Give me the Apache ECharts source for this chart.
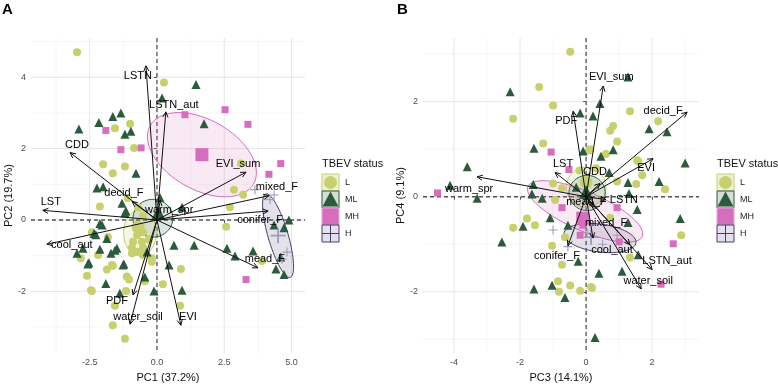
<!DOCTYPE html>
<html>
<head>
<meta charset="utf-8">
<script src="https://cdn.jsdelivr.net/npm/echarts@6/dist/echarts.min.js"></script>
<style>html,body{margin:0;padding:0;background:#fff}#chart{width:778px;height:388px}</style>
</head>
<body>
<div id="chart"></div>
<script>
// ---- data: panel A (PC1 / PC2) ----
const lA = [[-2.97,4.7],[0.26,3.85],[-1.56,2.57],[-1.0,2.7],[-0.85,2.02],[-2.0,1.56],[-1.64,1.31],[-1.19,1.5],[3.12,1.58],[2.86,0.85],[3.2,0.71],[-2.12,0.38],[-1.08,0.61],[2.71,0.36],[2.57,-0.19],[3.9,-1.15],[0.89,-1.37],[0.22,-1.8],[0.86,-2.4],[-0.45,-1.72],[-1.15,-1.99],[-1.56,-2.4],[-1.64,-2.95],[-1.19,-3.33],[-2.42,-1.99],[-2.6,-1.56],[-1.86,-1.39],[-1.64,-1.28],[-1.12,-1.58],[-1.04,-1.67],[-2.83,-1.07],[-2.19,-0.98],[-0.93,-0.93],[-0.52,-0.98],[-0.19,-1.07],[-0.52,0.12],[-0.63,-0.2],[-0.52,-0.34],[-0.74,-0.42],[-0.89,-0.61],[-0.56,-0.61],[-0.93,-0.78],[-0.74,-0.89],[-0.52,-0.78],[-1.82,-0.48],[-1.67,-1.26],[-0.19,-1.17],[-0.3,-0.55],[-0.7,0.35],[-2.42,-0.34],[-2.45,-1.97]]
const mlA = [[1.45,3.8],[0.19,3.42],[1.75,2.7],[-2.9,2.55],[-2.16,2.73],[-1.64,2.9],[-1.34,3.0],[-0.97,2.49],[-1.19,2.4],[-0.78,1.31],[-2.23,0.9],[-2.0,0.93],[-1.15,0.25],[0.93,0.36],[4.35,-0.14],[4.72,-0.22],[4.9,0.0],[4.6,-1.04],[4.42,-1.37],[4.72,-1.53],[3.57,-0.87],[2.9,-1.01],[2.6,-0.79],[1.38,-0.71],[0.63,-0.71],[0.93,-1.97],[0.45,-1.26],[-0.11,-1.99],[-0.45,-1.6],[-1.38,-2.05],[-1.9,-1.78],[-1.23,-1.23],[-2.57,-1.23],[-2.97,-0.93],[-2.75,-0.79],[-2.27,-0.41],[-1.86,-0.52],[-2.12,-0.82],[-1.49,-0.79],[-1.71,-0.93],[-0.37,-0.9],[-1.3,0.47],[-1.19,0.2],[-2.04,-0.14],[0.11,0.63],[-1.56,-0.85],[-1.26,-1.26],[-2.12,-0.1],[-2.34,-0.38],[-2.53,-1.2]]
const mhA = [[1.04,2.95],[2.53,3.09],[3.38,2.68],[-1.9,2.51],[-1.34,1.97],[-0.59,2.02],[4.6,1.58],[4.16,1.28],[3.31,-1.67]]
const hA = [[3.64,0.85],[4.2,0.57],[4.35,0.7],[4.83,-0.9],[4.65,-1.1]]
const meansA = [[-0.7,-0.2],[0.05,0.2],[1.67,1.83],[4.5,-0.44]]
// ellipse: centre x, centre y, semi-axis 1 (dx, dy), semi-axis 2 (dx, dy)
const ellA = [[-0.63,-0.36,0.6,-0.08,0.08,0.64],[-0.15,0.05,0.74,0,0,0.53],[1.67,1.83,1.91,-0.83,-0.67,-0.84],[4.5,-0.44,0.45,-1.17,-0.36,-0.07]]
const varsA = ['LSTN','LSTN_aut','CDD','EVI_sum','mixed_F','conifer_F','mead_F','EVI','water_soil','PDF','cool_aut','LST','decid_F','warm_spr']
const loadA = [[-0.41,4.32],[0.33,3.03],[-3.23,1.89],[3.31,1.34],[4.16,0.68],[4.13,0.25],[3.75,-1.34],[0.89,-2.95],[-1.0,-2.92],[-0.89,-2.1],[-4.09,-0.68],[-4.24,0.27],[-0.93,0.52],[0.12,0.55]]

// ---- data: panel B (PC3 / PC4) ----
const lB = [[-0.48,3.05],[-1.42,2.31],[-1.0,1.92],[-2.21,1.64],[0.82,1.49],[0.73,1.39],[-1.3,1.12],[0.09,0.98],[0.94,1.16],[1.33,1.8],[2.18,1.59],[0.12,1.0],[1.58,0.74],[1.7,0.45],[0.94,0.32],[1.52,0.27],[2.39,0.16],[0.73,-0.44],[2.88,-0.81],[1.33,-1.28],[-0.18,-1.98],[0.18,-1.92],[-0.48,-1.87],[-0.73,-1.43],[-1.0,0.28],[-0.94,-0.07],[-0.73,0.18],[-1.79,-0.46],[-2.21,-0.65],[-1.55,-0.6],[-0.64,-0.85],[-1.03,-1.03],[-0.85,-1.78],[-0.82,-2.0],[0.15,-1.9],[1.55,0.77],[0.3,0.6],[-0.2,0.55],[0.6,0.9]]
const mlB = [[-2.3,2.21],[-0.18,1.76],[0.21,1.7],[0.42,1.96],[-1.58,1.02],[-3.6,0.63],[-4.12,0.24],[1.27,2.52],[1.91,1.43],[2.45,1.37],[0.82,0.99],[0.45,0.85],[-0.09,0.96],[3.0,0.71],[0.7,0.51],[1.27,0.3],[2.21,0.32],[1.3,0.07],[1.55,-0.27],[1.27,-0.54],[2.85,-0.46],[1.58,-1.22],[1.09,-1.57],[0.39,-1.61],[0.27,-2.96],[-0.64,-2.12],[-0.24,-1.36],[-0.55,-0.6],[-3.3,-0.03],[-1.6,0.26],[-1.64,0.06],[-1.33,-0.03],[-1.09,-0.44],[-1.91,-0.62],[-2.55,-0.95],[-1.03,-1.86],[-1.58,-1.94],[-0.3,0.2]]
const mhB = [[-1.06,0.94],[-0.52,0.57],[-4.5,0.08],[0.94,-0.23],[2.64,-0.99],[2.27,-1.84],[1.0,-0.95],[-0.73,-0.23],[-0.18,-0.81],[-0.1,-0.6]]
const hB = [[-1.0,-0.7],[-0.55,-1.05],[0.03,-0.77],[0.94,-0.81],[0.5,-1.0]]
const meansB = [[0.0,0.3],[0.0,0.1],[-0.1,-0.45],[0.15,-0.85]]
const ellB = [[0.0,0.2,0.6,0,0,0.42],[0.03,0.08,0.55,0,0,0.37],[-0.03,-0.31,1.73,-0.53,-0.25,-0.37],[0.42,-0.87,1.09,-0.1,-0.06,-0.29]]
const varsB = ['EVI_sum','PDF','decid_F','EVI','LST','CDD','warm_spr','mead_F','LSTN','mixed_F','conifer_F','cool_aut','LSTN_aut','water_soil']
const loadB = [[0.52,2.33],[-0.39,1.8],[3.06,1.78],[2.03,0.8],[-0.94,0.51],[0.42,0.28],[-3.3,0.42],[0.25,-0.22],[0.6,-0.06],[0.21,-0.87],[-0.55,-1.03],[1.33,-1.01],[2.0,-1.53],[1.67,-1.94]]

const groups = ['L', 'ML', 'MH', 'H']

// ---- styling ----
const font = '"Liberation Sans", Arial, sans-serif'
const plus = 'path://M4.4,0H5.6V4.4H10V5.6H5.6V10H4.4V5.6H0V4.4H4.4Z'
const pointColor = ['#c8d06e', '#2b5b3c', '#d66dbd', '#9f9abd']
const edgeColor = ['#c8d06e', '#2b5b3c', '#d66dbd', '#4a3d6e']
const ellFill = ['rgba(200,208,110,0.18)', 'rgba(43,91,60,0.16)', 'rgba(214,109,189,0.15)', 'rgba(74,61,110,0.15)']
const symbol = ['circle', 'triangle', 'rect', plus]
const symSize = [8, 9, 7, 9]
const meanSize = [13, 14, 13, 15]
// label offsets in pixels from the arrow tip
const offA = [[-8,10],[8,-7],[7,-8],[-8,-8],[8,-9],[-8,9],[7,-9],[7,-8],[8,-7],[-16,6],[25,1],[8,-8],[-8,-8],[9,10]]
const offB = [[8,-9],[-7,10],[-24,-1],[-7,9],[8,-9],[-5,-11],[-8,12],[-8,-5],[18,0],[13,-15],[-11,10],[-18,5],[15,-8],[7,-8]]

function gridItem(xMajor, xMinor, yMajor, yMinor) {
  return function (params, api) {
    const cs = params.coordSys
    const kids = []
    const vline = (v, c, w, dash) => {
      const x = api.coord([v, 0])[0]
      kids.push({type: 'line', shape: {x1: x, y1: cs.y, x2: x, y2: cs.y + cs.height}, style: {stroke: c, lineWidth: w, lineDash: dash}})
    }
    const hline = (v, c, w, dash) => {
      const y = api.coord([0, v])[1]
      kids.push({type: 'line', shape: {x1: cs.x, y1: y, x2: cs.x + cs.width, y2: y}, style: {stroke: c, lineWidth: w, lineDash: dash}})
    }
    xMinor.forEach(v => vline(v, '#f2f2f2', 0.7))
    yMinor.forEach(v => hline(v, '#f2f2f2', 0.7))
    xMajor.forEach(v => vline(v, '#e6e6e6', 1))
    yMajor.forEach(v => hline(v, '#e6e6e6', 1))
    vline(0, '#555', 1.3, [4, 3])
    hline(0, '#555', 1.3, [4, 3])
    return {type: 'group', children: kids}
  }
}

function ellipseItem(params, api) {
  const i = params.dataIndex
  const c = [api.value(0), api.value(1), api.value(2), api.value(3), api.value(4), api.value(5)]
  const pts = []
  for (let k = 0; k <= 72; k++) {
    const t = k / 72 * Math.PI * 2
    pts.push(api.coord([c[0] + c[2] * Math.cos(t) + c[4] * Math.sin(t), c[1] + c[3] * Math.cos(t) + c[5] * Math.sin(t)]))
  }
  return {type: 'polygon', shape: {points: pts}, style: {fill: ellFill[i], stroke: edgeColor[i], lineWidth: 1}}
}

function arrowItem(names, offs) {
  return function (params, api) {
    const i = params.dataIndex
    const p0 = api.coord([0, 0])
    const p1 = api.coord([api.value(0), api.value(1)])
    const a = Math.atan2(p1[1] - p0[1], p1[0] - p0[0])
    const h = 6, w = 0.45
    const l = [p1[0] - h * Math.cos(a - w), p1[1] - h * Math.sin(a - w)]
    const r = [p1[0] - h * Math.cos(a + w), p1[1] - h * Math.sin(a + w)]
    return {type: 'group', children: [
      {type: 'line', shape: {x1: p0[0], y1: p0[1], x2: p1[0], y2: p1[1]}, style: {stroke: '#111', lineWidth: 1}},
      {type: 'polyline', shape: {points: [l, p1, r]}, style: {stroke: '#111', lineWidth: 1, fill: 'none'}},
      {type: 'text', style: {x: p1[0] + offs[i][0], y: p1[1] + offs[i][1], text: names[i], textAlign: 'center', textVerticalAlign: 'middle', font: '11px ' + font, fill: '#000'}}
    ]}
  }
}

function panelSeries(p, pts, means, ell, load, names, offs, grid) {
  const out = []
  out.push({type: 'custom', xAxisIndex: p, yAxisIndex: p, data: [[0, 0]], renderItem: grid, silent: true, z: 0})
  out.push({type: 'custom', xAxisIndex: p, yAxisIndex: p, data: ell, dimensions: ['x', 'y', 'a', 'b', 'c', 'd'], encode: {x: 0, y: 1}, renderItem: ellipseItem, silent: true, z: 1})
  pts.forEach((d, g) => {
    out.push({type: 'scatter', xAxisIndex: p, yAxisIndex: p, data: d, symbol: symbol[g], symbolSize: symSize[g], itemStyle: {color: pointColor[g], opacity: 1}, z: 2})
    out.push({type: 'scatter', xAxisIndex: p, yAxisIndex: p, data: [means[g]], symbol: symbol[g], symbolSize: meanSize[g], itemStyle: {color: pointColor[g], opacity: 1}, z: 3})
  })
  out.push({type: 'custom', xAxisIndex: p, yAxisIndex: p, data: load, renderItem: arrowItem(names, offs), silent: true, z: 4, clip: false})
  return out
}

function legend(x0) {
  const els = [{type: 'text', style: {x: x0, y: 164, text: 'TBEV status', font: '11px ' + font, fill: '#111', textVerticalAlign: 'middle'}}]
  const keyFill = ['#eef1d8', '#d5ddd6', '#d66dbd', '#e4e1ec']
  const keyEdge = ['#c8d06e', '#2b5b3c', '#e7a6d9', '#4a3d6e']
  groups.forEach((g, i) => {
    const y = 174 + i * 17
    els.push({type: 'rect', shape: {x: x0, y: y, width: 17, height: 17}, style: {fill: keyFill[i], stroke: keyEdge[i], lineWidth: 1}})
    const cx = x0 + 8.5, cy = y + 8.5
    if (i === 0) els.push({type: 'circle', shape: {cx, cy, r: 6.5}, style: {fill: pointColor[0]}})
    if (i === 1) els.push({type: 'polygon', shape: {points: [[cx, cy - 8], [cx - 8, cy + 7], [cx + 8, cy + 7]]}, style: {fill: pointColor[1]}})
    if (i === 3) {
      els.push({type: 'line', shape: {x1: cx, y1: y, x2: cx, y2: y + 17}, style: {stroke: '#4a3d6e', lineWidth: 1}})
      els.push({type: 'line', shape: {x1: x0, y1: cy, x2: x0 + 17, y2: cy}, style: {stroke: '#4a3d6e', lineWidth: 1}})
    }
    els.push({type: 'text', style: {x: x0 + 23, y: cy, text: g, font: '9px ' + font, fill: '#222', textVerticalAlign: 'middle'}})
  })
  return els
}

function axisX(i, min, max, ticks, name, fmt) {
  return {gridIndex: i, type: 'value', min, max, name, nameLocation: 'middle', nameGap: 14,
    nameTextStyle: {fontSize: 11, color: '#111', fontFamily: font},
    axisLine: {show: false}, splitLine: {show: false},
    axisTick: {show: true, customValues: ticks, length: 3, lineStyle: {color: '#555'}},
    axisLabel: {customValues: ticks, formatter: fmt, fontSize: 9, color: '#4d4d4d', margin: 5, fontFamily: font}}
}
function axisY(i, min, max, ticks, name, gap) {
  return {gridIndex: i, type: 'value', min, max, name, nameLocation: 'middle', nameGap: gap,
    nameTextStyle: {fontSize: 11, color: '#111', fontFamily: font},
    axisLine: {show: false}, splitLine: {show: false},
    axisTick: {show: true, customValues: ticks, length: 3, lineStyle: {color: '#555'}},
    axisLabel: {customValues: ticks, fontSize: 9, color: '#4d4d4d', margin: 5, fontFamily: font}}
}

const chart = echarts.init(document.getElementById('chart'))
chart.setOption({
  animation: false,
  backgroundColor: '#fff',
  textStyle: {fontFamily: font},
  grid: [
    {left: 31, top: 38, width: 274, height: 323},
    {left: 423, top: 38, width: 276, height: 323}
  ],
  xAxis: [
    axisX(0, -4.68, 5.5, [-2.5, 0, 2.5, 5], 'PC1 (37.2%)', v => v.toFixed(1)),
    axisX(1, -4.94, 3.42, [-4, -2, 0, 2], 'PC3 (14.1%)', v => String(v))
  ],
  yAxis: [
    axisY(0, -3.73, 5.1, [-2, 0, 2, 4], 'PC2 (19.7%)', 16),
    axisY(1, -3.29, 3.34, [-2, 0, 2], 'PC4 (9.1%)', 14)
  ],
  graphic: [
    {type: 'text', left: 2, top: 2, style: {text: 'A', font: 'bold 15px ' + font, fill: '#000'}},
    {type: 'text', left: 397, top: 2, style: {text: 'B', font: 'bold 15px ' + font, fill: '#000'}},
    {type: 'group', children: legend(322)},
    {type: 'group', children: legend(717)}
  ],
  series: [].concat(
    panelSeries(0, [lA, mlA, mhA, hA], meansA, ellA, loadA, varsA, offA,
      gridItem([-2.5, 0, 2.5, 5], [-3.75, -1.25, 1.25, 3.75], [-2, 0, 2, 4], [-3, -1, 1, 3, 5])),
    panelSeries(1, [lB, mlB, mhB, hB], meansB, ellB, loadB, varsB, offB,
      gridItem([-4, -2, 0, 2], [-3, -1, 1, 3], [-2, 0, 2], [-3, -1, 1, 3]))
  )
})
</script>
</body>
</html>
